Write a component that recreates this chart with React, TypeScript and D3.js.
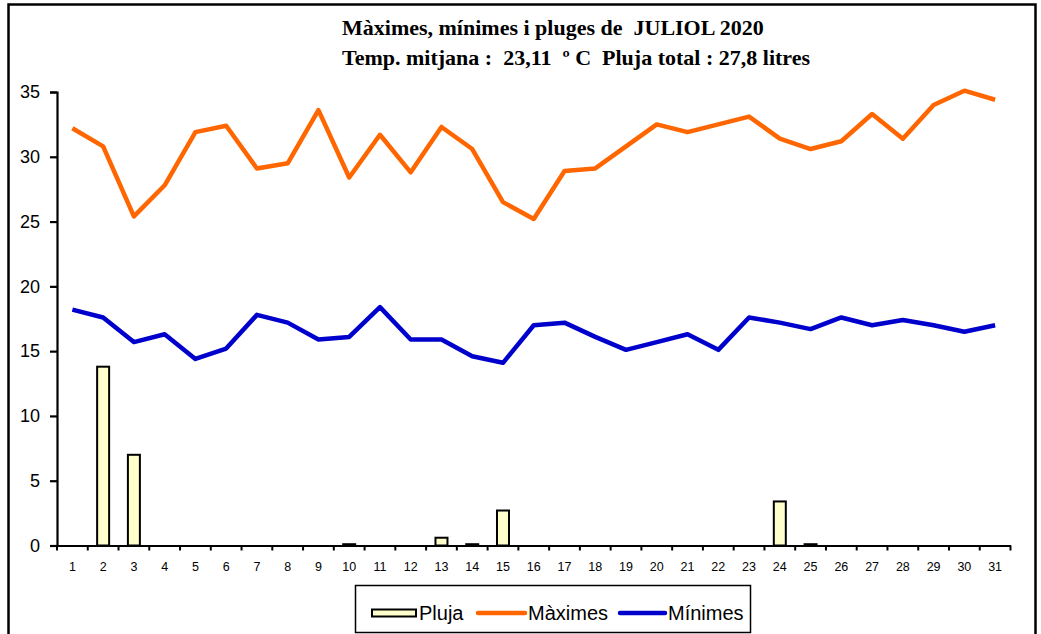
import { useEffect, useRef } from "react";
import {
  axisBottom,
  axisLeft,
  line,
  scaleBand,
  scaleLinear,
  select,
} from "d3";

// dies del mes
const days = [
  "1", "2", "3", "4", "5", "6", "7", "8", "9", "10", "11", "12", "13", "14", "15", "16",
  "17", "18", "19", "20", "21", "22", "23", "24", "25", "26", "27", "28", "29", "30", "31",
];

const pluja = [
  0, 13.8, 7.0, 0, 0, 0, 0, 0, 0, 0.1, 0, 0, 0.6, 0.1, 2.7, 0,
  0, 0, 0, 0, 0, 0, 0, 3.4, 0.1, 0, 0, 0, 0, 0, 0,
];

const maximes = [
  32.2, 30.8, 25.4, 27.8, 31.9, 32.4, 29.1, 29.5, 33.6, 28.4, 31.7, 28.8, 32.3, 30.6, 26.5, 25.2,
  28.9, 29.1, 30.8, 32.5, 31.9, 32.5, 33.1, 31.4, 30.6, 31.2, 33.3, 31.4, 34.0, 35.1, 34.4,
];

const minimes = [
  18.2, 17.6, 15.7, 16.3, 14.4, 15.2, 17.8, 17.2, 15.9, 16.1, 18.4, 15.9, 15.9, 14.6, 14.1, 17.0,
  17.2, 16.1, 15.1, 15.7, 16.3, 15.1, 17.6, 17.2, 16.7, 17.6, 17.0, 17.4, 17.0, 16.5, 17.0,
];

const yTicks = [0, 5, 10, 15, 20, 25, 30, 35];

const titleLines = [
  "Màximes, mínimes i pluges de  JULIOL 2020",
  "Temp. mitjana :  23,11  º C  Pluja total : 27,8 litres",
];

const legendItems = ["Pluja", "Màximes", "Mínimes"];

export default function App() {
  const ref = useRef<SVGSVGElement | null>(null);

  useEffect(() => {
    const width = 1041;
    const height = 634;
    const plot = { left: 57, right: 1010.5, top: 92, bottom: 545.5 };

    const svg = select(ref.current);
    svg.selectAll("*").remove();
    svg.attr("width", width).attr("height", height);

    // marc exterior
    svg
      .append("rect")
      .attr("x", 8.5)
      .attr("y", 4.5)
      .attr("width", 1027)
      .attr("height", 660)
      .attr("fill", "white")
      .attr("stroke", "black")
      .attr("stroke-width", 2.5);

    // títol
    const title = svg
      .append("text")
      .attr("font-family", "'Liberation Serif', 'Times New Roman', serif")
      .attr("font-weight", "bold")
      .attr("font-size", 22)
      .style("white-space", "pre");
    titleLines.forEach((t, i) => {
      title
        .append("tspan")
        .attr("x", 342)
        .attr("y", 35 + i * 29.5)
        .text(t);
    });

    const x = scaleBand<string>().domain(days).range([plot.left, plot.right]);
    const y = scaleLinear().domain([0, 35]).range([plot.bottom, plot.top]);

    // barres de pluja
    const barW = x.bandwidth() * 0.39;
    svg
      .append("g")
      .selectAll("rect")
      .data(days.map((d, i) => ({ day: d, v: pluja[i] })).filter((d) => d.v > 0))
      .join("rect")
      .attr("x", (d) => (x(d.day) as number) + (x.bandwidth() - barW) / 2)
      .attr("y", (d) => y(d.v))
      .attr("width", barW)
      .attr("height", (d) => y(0) - y(d.v))
      .attr("fill", "#FFFFCC")
      .attr("stroke", "black")
      .attr("stroke-width", 2);

    // eixos
    const yAxis = svg
      .append("g")
      .attr("transform", `translate(${plot.left},0)`)
      .call(axisLeft(y).tickValues(yTicks).tickSize(7).tickPadding(10).tickFormat((d) => String(d)));
    yAxis.select(".domain").attr("stroke-width", 2.2);
    yAxis.selectAll(".tick line").attr("stroke-width", 2.2);
    yAxis
      .selectAll("text")
      .attr("font-family", "'Liberation Sans', Arial, sans-serif")
      .attr("font-size", 18)
      .attr("fill", "black");

    const xAxis = svg
      .append("g")
      .attr("transform", `translate(0,${plot.bottom})`)
      .call(axisBottom(x).tickSize(0).tickPadding(17).tickSizeOuter(0));
    xAxis.select(".domain").attr("stroke-width", 2.2);
    xAxis
      .selectAll("text")
      .attr("font-family", "'Liberation Sans', Arial, sans-serif")
      .attr("font-size", 12.5)
      .attr("fill", "black");

    // marques entre dies
    svg
      .append("g")
      .selectAll("line")
      .data([...days, "end"])
      .join("line")
      .attr("x1", (d) => (d === "end" ? plot.right : (x(d) as number)))
      .attr("x2", (d) => (d === "end" ? plot.right : (x(d) as number)))
      .attr("y1", plot.bottom)
      .attr("y2", plot.bottom + 5)
      .attr("stroke", "black")
      .attr("stroke-width", 2);

    // línies de temperatura
    const lineGen = line<number>()
      .x((_, i) => (x(days[i]) as number) + x.bandwidth() / 2)
      .y((d) => y(d));

    svg
      .append("path")
      .datum(maximes)
      .attr("fill", "none")
      .attr("stroke", "#FF6600")
      .attr("stroke-width", 4.5)
      .attr("stroke-linejoin", "round")
      .attr("d", lineGen);

    svg
      .append("path")
      .datum(minimes)
      .attr("fill", "none")
      .attr("stroke", "#0000CC")
      .attr("stroke-width", 4.5)
      .attr("stroke-linejoin", "round")
      .attr("d", lineGen);

    // llegenda
    const legend = svg.append("g");
    legend
      .append("rect")
      .attr("x", 355.5)
      .attr("y", 585.5)
      .attr("width", 395)
      .attr("height", 47)
      .attr("fill", "white")
      .attr("stroke", "black")
      .attr("stroke-width", 1.5);

    legend
      .append("rect")
      .attr("x", 372)
      .attr("y", 609.5)
      .attr("width", 44)
      .attr("height", 7)
      .attr("fill", "#FFFFCC")
      .attr("stroke", "black")
      .attr("stroke-width", 2);

    const swatchLines = [
      { x1: 478, x2: 525, color: "#FF6600" },
      { x1: 620, x2: 665, color: "#0000CC" },
    ];
    swatchLines.forEach((s) => {
      legend
        .append("line")
        .attr("x1", s.x1)
        .attr("x2", s.x2)
        .attr("y1", 613)
        .attr("y2", 613)
        .attr("stroke", s.color)
        .attr("stroke-width", 4.5)
        .attr("stroke-linecap", "round");
    });

    const labelX = [419, 528, 668];
    legend
      .selectAll("text")
      .data(legendItems)
      .join("text")
      .attr("x", (_, i) => labelX[i])
      .attr("y", 620)
      .attr("font-family", "'Liberation Sans', Arial, sans-serif")
      .attr("font-size", 20)
      .attr("fill", "black")
      .text((d) => d);
  }, []);

  return (
    <div style={{ position: "absolute", left: 0, top: 0 }}>
      <svg ref={ref} style={{ display: "block" }} />
    </div>
  );
}
